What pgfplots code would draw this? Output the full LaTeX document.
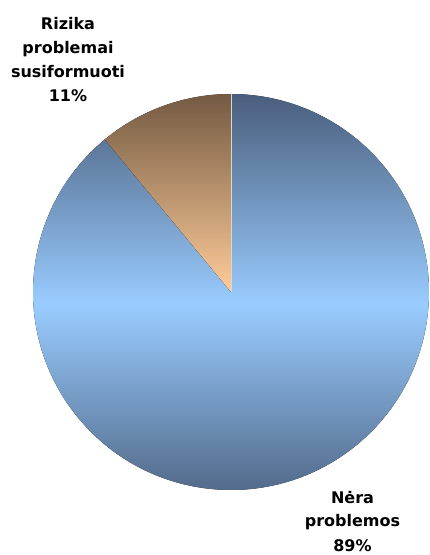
\documentclass[border=0pt]{standalone}
\usepackage{fontspec}
\setmainfont{DejaVu Sans}
\usepackage{pgfplots}
\usepackage{pgfplotstable}
\pgfplotsset{compat=1.18}
\pgfplotstableread{
label value
1 89
2 11
}\piedata
\definecolor{blueDark}{HTML}{4A5E7C}
\definecolor{blueLight}{HTML}{99CCFF}
\definecolor{brownDark}{HTML}{735A42}
\definecolor{brownLight}{HTML}{FFCC99}
\begin{document}
\begin{tikzpicture}
\pgfplotstablegetelem{0}{value}\of\piedata \edef\vA{\pgfplotsretval}
\pgfplotstablegetelem{1}{value}\of\piedata \edef\vB{\pgfplotsretval}
\pgfmathsetmacro{\angB}{90+\vB*3.6}
\begin{axis}[x=1pt,y=1pt,xmin=0,xmax=430,ymin=0,ymax=555,hide axis,clip=false]
\fill[top color=blueDark,bottom color=blueDark,middle color=blueLight] (axis cs:231,263) -- ++(\angB:198pt) arc[start angle=\angB,end angle=450,radius=198pt] -- cycle;
\fill[top color=brownDark,bottom color=brownLight] (axis cs:231,263) -- ++(90:198pt) arc[start angle=90,end angle=\angB,radius=198pt] -- cycle;
\draw[white!75!brownDark,line width=0.4pt] (axis cs:231,263) -- ++(90:198pt);
\tikzset{lbl/.style={anchor=base,inner sep=0pt,font=\bfseries\fontsize{16}{19}\selectfont}}
\node[lbl] at (axis cs:68,525.7) {Rizika};
\node[lbl] at (axis cs:68,501.6) {problemai};
\node[lbl] at (axis cs:68,477.5) {susiformuoti};
\node[lbl] at (axis cs:68,453.4) {11\%};
\node[lbl] at (axis cs:352.5,52) {Nėra};
\node[lbl] at (axis cs:352.5,28) {problemos};
\node[lbl] at (axis cs:352.5,4) {89\%};
\end{axis}
\pgfresetboundingbox
\path (0,0) rectangle (430pt,555pt);
\end{tikzpicture}
\end{document}
